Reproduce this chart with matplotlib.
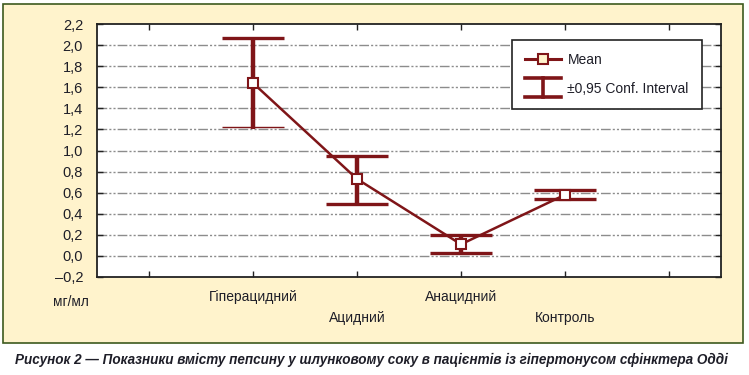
import matplotlib
matplotlib.use("Agg")
from matplotlib import pyplot as plt
from matplotlib.patches import Rectangle
from matplotlib.lines import Line2D
from matplotlib.legend_handler import HandlerBase
from matplotlib.transforms import blended_transform_factory

plt.rcParams['font.family'] = ['Liberation Sans', 'DejaVu Sans']

# data
groups = ["Гіперацидний", "Ацидний", "Анацидний", "Контроль"]
means = [1.64, 0.73, 0.11, 0.58]
ci_low = [1.22, 0.49, 0.025, 0.537]
ci_high = [2.065, 0.95, 0.195, 0.622]
bar_bottom = [1.20, 0.49, 0.025, 0.537]   # vertical bar of the first group runs a bit below its cap
low_cap_lw = [1.0, 2.4, 2.4, 2.4]          # first lower cap is drawn thin in the original
y_ticks = [-0.2, 0.0, 0.2, 0.4, 0.6, 0.8, 1.0, 1.2, 1.4, 1.6, 1.8, 2.0, 2.2]
caption = "Рисунок 2 — Показники вмісту пепсину у шлунковому соку в пацієнтів із гіпертонусом сфінктера Одді"

RED = "#7f1518"
CREAM = "#fff3cc"
TXT = "#1e1e28"

W, H = 749, 375
fig = plt.figure(figsize=(W / 100, H / 100), dpi=100)
fig.patch.set_facecolor("white")

# cream panel with green border
fig.patches.append(Rectangle((3 / W, 1 - 343 / H), 740 / W, 339 / H, transform=fig.transFigure,
                             facecolor=CREAM, edgecolor="#3d5a1e", lw=1.2, zorder=-10))

ax = fig.add_axes([97 / W, 1 - 277 / H, 624 / W, 253 / H])
ax.set_facecolor("white")
x = list(range(len(groups)))

ax.set_xlim(-1.5, 4.5)
ax.set_ylim(-0.2, 2.2)
ax.set_yticks(y_ticks)
ax.set_yticklabels([f"{v:.1f}".replace(".", ",").replace("-", "–") for v in y_ticks],
                   fontsize=10.5, color=TXT)
ax.set_xticks([-1, 0, 1, 2, 3, 4])
ax.set_xticklabels([])
ax.tick_params(axis="both", direction="in", length=4, width=1, color="#222222")
ax.tick_params(axis="x", top=True, bottom=True)
ax.tick_params(axis="y", left=True, right=True, pad=10)
for s in ax.spines.values():
    s.set_linewidth(1.3)
    s.set_color("#222222")

for v in y_ticks[1:-1]:
    gl = ax.axhline(v, color="#8c8c8c", lw=1.0, zorder=1)
    gl.set_dashes((7, 1.5, 1.5, 1.5, 1.5, 1.5))

# confidence intervals
ax.vlines(x, bar_bottom, ci_high, color=RED, lw=3.2, zorder=3)
ax.hlines(ci_high, [i - 0.3 for i in x], [i + 0.3 for i in x], color=RED, lw=2.4, zorder=3)
ax.hlines(ci_low, [i - 0.3 for i in x], [i + 0.3 for i in x], color=RED, lw=low_cap_lw, zorder=3)

# means
ax.plot(x, means, color=RED, lw=1.8, marker="s", ms=6.5, mfc="white", mec=RED, mew=1.5, zorder=4)

# category labels, staggered
tr = blended_transform_factory(ax.transData, fig.transFigure)
for i, g in enumerate(groups):
    ypix = 297 if i % 2 == 0 else 318
    ax.text(i, 1 - ypix / H, g, transform=tr, ha="center", va="center", fontsize=10, color=TXT)
fig.text(70.5 / W, 1 - 302 / H, "мг/мл", ha="center", va="center", fontsize=9.8, color=TXT)


class CIHandler(HandlerBase):
    def create_artists(self, legend, orig_handle, xdescent, ydescent, width, height, fontsize, trans):
        cy = height / 2 - ydescent
        half = 6.8
        top = Line2D([-xdescent, width - xdescent], [cy + half, cy + half], color=RED, lw=2.6, transform=trans)
        bot = Line2D([-xdescent, width - xdescent], [cy - half, cy - half], color=RED, lw=2.6, transform=trans)
        mid = Line2D([width / 2 - xdescent] * 2, [cy - half, cy + half], color=RED, lw=2.6, transform=trans)
        return [top, bot, mid]


mean_handle = Line2D([], [], color=RED, lw=2.2, marker="s", ms=6.5, mfc=CREAM, mec=RED, mew=1.5)
ci_handle = Rectangle((0, 0), 1, 1)
leg = ax.legend([mean_handle, ci_handle], ["Mean", "±0,95 Conf. Interval"],
                handler_map={Rectangle: CIHandler()},
                loc="upper right", bbox_to_anchor=(0.9696, 0.9368), borderaxespad=0,
                fontsize=10, handlelength=2.6, handletextpad=0.45, labelspacing=1.05,
                borderpad=0.95, fancybox=False, framealpha=1, edgecolor="#222222",
                labelcolor=TXT)
leg.get_frame().set_linewidth(1.2)
leg.set_zorder(5)

fig.text(371.5 / W, 1 - 360 / H, caption, ha="center", va="center", fontsize=9.75,
         fontweight="bold", fontstyle="italic", color=TXT)

fig.savefig("out.png", dpi=100)
